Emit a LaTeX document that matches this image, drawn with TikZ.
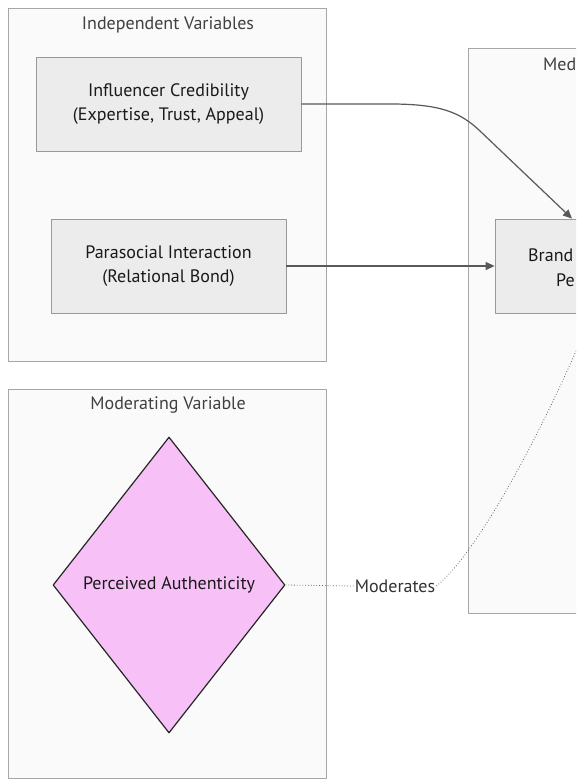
\documentclass[tikz,border=0pt]{standalone}
\usepackage{fontspec}
\setmainfont{PT Sans}
\usetikzlibrary{shapes.geometric,arrows.meta,positioning,calc}
\definecolor{modpink}{HTML}{F7C1F7}
\definecolor{groupfill}{HTML}{FAFAFA}
\definecolor{varfill}{HTML}{ECECEC}
\tikzset{
  groupbox/.style={draw=black!35, fill=groupfill, line width=0.8pt, anchor=north west, inner sep=0pt},
  grouptitle/.style={text=black!75, inner sep=0pt},
  varbox/.style={draw=black!40, fill=varfill, line width=0.8pt, align=center, text=black!90},
  moddiamond/.style={diamond, draw=black!85, fill=modpink, line width=1.2pt, inner sep=2pt, text=black!90},
  link/.style={draw=black!65, line width=1.2pt, -{Triangle[length=9pt,width=8pt]}},
  modlink/.style={draw=black!60, dotted, line width=0.8pt},
}
\begin{document}
\begin{tikzpicture}[x=1pt, y=-1pt, font=\fontsize{18}{24}\selectfont, line join=round]
				\useasboundingbox (0,0) rectangle (576,781);
				\clip (0,0) rectangle (576,781);
				\fill[white] (0,0) rectangle (576,781);
				\node[groupbox, minimum width=318pt, minimum height=353pt] (indep) at (8,8) {};
				\node[groupbox, minimum width=318pt, minimum height=389pt] (moder) at (8,389) {};
				\node[groupbox, minimum width=300pt, minimum height=565pt] (medi) at (468,48) {};
				\node[grouptitle] (indeptitle) at (168,25) {Independent Variables};
				\node[grouptitle] (modertitle) at (168,405) {Moderating Variable};
				\node[grouptitle, anchor=west] (medititle) at (543,64) {Med};
				\node[varbox, minimum width=265pt, minimum height=94pt] (cred) at (168.5,104) {Influencer Credibility\\(Expertise, Trust, Appeal)};
				\node[varbox, minimum width=235pt, minimum height=94pt] (psi) at (168.5,266) {Parasocial Interaction\\(Relational Bond)};
				\node[varbox, minimum width=194pt, minimum height=94pt] (brand) at (592,266) {};
				\node[anchor=west, inner sep=0pt, text=black!90] (brandtop) at (528,255) {Brand};
				\node[anchor=west, inner sep=0pt, text=black!90] (brandbot) at (556,280) {Pe};
				\node[moddiamond, minimum width=232pt, minimum height=296pt] (auth) at (169,585) {Perceived Authenticity};
				\node[inner sep=1pt, text=black!80] (modlabel) at (395,586) {Moderates};
				\coordinate (credin) at ($(brand.north)+(-20,0)$);
				\draw[link] (cred.east) -- (390,104) .. controls (440,104) and (460,112) .. (480,131) -- (credin);
				\draw[link] (psi.east) -- (brand.west);
				\draw[modlink] (auth.east) -- (modlabel.west);
				\draw[modlink] (modlabel.east) .. controls (487,545) and (562,388) .. (brand.south);
			\end{tikzpicture}
\end{document}
